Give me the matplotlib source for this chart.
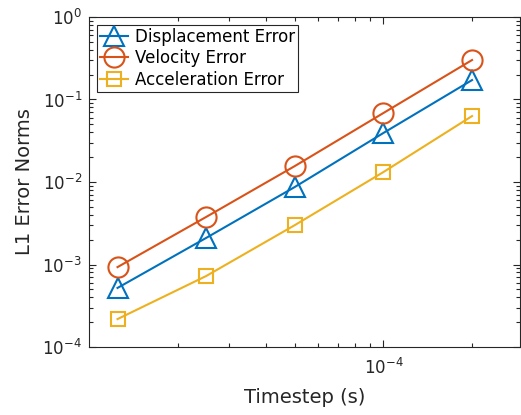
import matplotlib
matplotlib.use("Agg")
import matplotlib.pyplot as plt
from matplotlib.ticker import LogLocator, NullFormatter, FixedLocator, LogFormatterSciNotation

plt.rcParams['font.family'] = ['DejaVu Sans']
plt.rcParams['mathtext.fontset'] = 'dejavusans'
plt.rcParams['mathtext.default'] = 'regular'

timestep = [1.25e-5, 2.5e-5, 5e-5, 1e-4, 2e-4]
displacement_err = [5.2e-4, 2.1e-3, 8.7e-3, 0.0393, 0.172]
velocity_err = [9.3e-4, 3.77e-3, 0.0156, 0.0686, 0.301]
acceleration_err = [2.18e-4, 7.25e-4, 3.0e-3, 0.0132, 0.063]
series_labels = ['Displacement Error', 'Velocity Error', 'Acceleration Error']
x_major_ticks = [1e-4]

blue = '#0072BD'
orange = '#D95319'
yellow = '#EDB120'
dark = '#262626'

fig = plt.figure(figsize=(5.21, 4.15), dpi=100)
ax = fig.add_axes([89/521, 1 - 347/415, (520 - 89)/521, (347 - 17)/415])

ax.plot(timestep, displacement_err, color=blue, lw=1.5, marker='^', ms=15,
        mfc='none', mec=blue, mew=1.5, label=series_labels[0])
ax.plot(timestep, velocity_err, color=orange, lw=1.5, marker='o', ms=14.5,
        mfc='none', mec=orange, mew=1.5, label=series_labels[1])
ax.plot(timestep, acceleration_err, color=yellow, lw=1.5, marker='s', ms=9.5,
        mfc='none', mec=yellow, mew=1.5, label=series_labels[2])

ax.set_xscale('log')
ax.set_yscale('log')
ax.set_xlim(1e-5, 2.91e-4)
ax.set_ylim(1e-4, 1e0)

ax.xaxis.set_major_locator(FixedLocator(x_major_ticks))
ax.xaxis.set_major_formatter(LogFormatterSciNotation())
ax.xaxis.set_minor_locator(LogLocator(base=10, subs=range(2, 10), numticks=10))
ax.xaxis.set_minor_formatter(NullFormatter())
ax.yaxis.set_major_locator(LogLocator(base=10, numticks=10))
ax.yaxis.set_minor_locator(LogLocator(base=10, subs=range(2, 10), numticks=10))
ax.yaxis.set_minor_formatter(NullFormatter())

ax.tick_params(which='both', direction='in', top=True, right=True, colors=dark,
               labelsize=12, width=0.8)
ax.tick_params(axis='x', which='major', pad=8)
ax.tick_params(axis='y', which='major', pad=5)
ax.tick_params(which='major', length=5)
ax.tick_params(which='minor', length=3)
for s in ax.spines.values():
    s.set_color(dark)
    s.set_linewidth(0.8)

ax.set_xlabel('Timestep (s)', fontsize=14, color=dark, labelpad=7)
ax.set_ylabel('L1 Error Norms', fontsize=14, color=dark, labelpad=6)

leg = ax.legend(loc='upper left', fontsize=12, frameon=True, fancybox=False,
                edgecolor=dark, handlelength=1.7, handletextpad=0.4,
                borderpad=0.2, labelspacing=0.2, borderaxespad=0.45,
                framealpha=1)
leg.get_frame().set_linewidth(0.8)

fig.savefig('out.png', dpi=100)
